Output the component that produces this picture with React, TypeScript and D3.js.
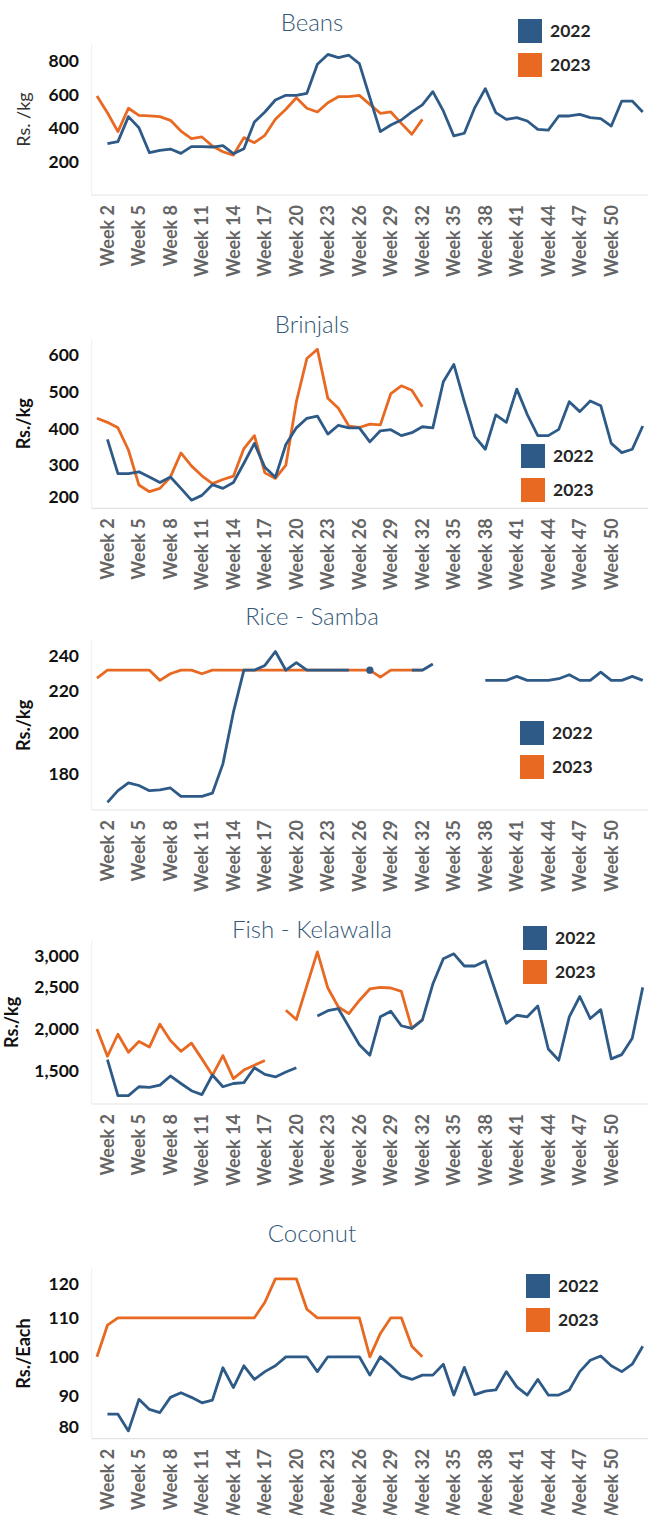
import React from 'react';
import * as d3 from 'd3';

// ---------- categories & tick labels ----------
const weeks: string[] = d3.range(1, 54).map((i) => `Week ${i}`);
const xTickLabels = [
  'Week 2', 'Week 5', 'Week 8', 'Week 11', 'Week 14', 'Week 17', 'Week 20', 'Week 23',
  'Week 26', 'Week 29', 'Week 32', 'Week 35', 'Week 38', 'Week 41', 'Week 44', 'Week 47', 'Week 50',
];
const seriesNames = ['2022', '2023'];

// ---------- Beans ----------
const beans2022 = [
  null, 306, 318, 467, 401, 252, 266, 274, 248, 288, 288, 286, 294, 246, 276, 435, 495, 566, 594, 594,
  606, 779, 838, 819, 833, 783, 580, 378, 417, 447, 495, 537, 616, 501, 352, 368, 521, 634, 491, 451,
  461, 441, 391, 387, 471, 471, 481, 461, 455, 411, 560, 560, 495,
];
const beans2023 = [
  590, 490, 378, 517, 475, 471, 467, 445, 381, 336, 346, 292, 258, 238, 342, 312, 356, 451, 511, 580,
  517, 495, 550, 586, 586, 594, 540, 487, 495, 427, 362, 451,
];
const beansTicks = [200, 400, 600, 800];

// ---------- Brinjals ----------
const brinjals2022 = [
  null, 370, 277, 277, 282, 268, 253, 268, 237, 205, 218, 247, 237, 253, 305, 359, 294, 267, 356, 401,
  427, 433, 384, 408, 401, 401, 363, 393, 396, 380, 388, 404, 401, 526, 573, 472, 377, 343, 436, 416,
  506, 437, 380, 380, 397, 472, 445, 474, 461, 359, 334, 343, 406,
];
const brinjals2023 = [
  427, 416, 401, 341, 246, 228, 237, 268, 333, 298, 271, 250, 261, 270, 345, 380, 279, 264, 300, 472,
  589, 614, 481, 454, 406, 402, 411, 409, 494, 515, 503, 458,
];
const brinjalsTicks = [200, 300, 400, 500, 600];

// ---------- Rice - Samba ----------
const rice2022 = [
  null, 166.4, 172, 175.8, 174.5, 172, 172.4, 173.3, 169.3, 169.3, 169.3, 170.8, 184.9, 209.8, 230, 230,
  232.3, 239, 230, 233.6, 230, 230, 230, 230, 230, null, 230, null, null, null, 230, 230, 233,
  null, null, null, null, 225.1, 225.1, 225.1, 227, 225.1, 225.1, 225.1, 225.9, 227.8, 225.1, 225.1,
  229.1, 225.1, 225.1, 227, 225.1,
];
const rice2023 = [
  226.2, 230, 230, 230, 230, 230, 225.1, 228.3, 230, 230, 228.3, 230, 230, 230, 230, 230, 230, 230,
  230, 230, 230, 230, 230, 230, 230, 230, 230, 226.7, 230, 230, 230, 230,
];
const riceTicks = [180, 200, 220, 240];

// ---------- Fish - Kelawalla ----------
const fish2022 = [
  null, 1629, 1199, 1199, 1305, 1297, 1324, 1434, 1344, 1258, 1211, 1445, 1305, 1344, 1355, 1531, 1453,
  1422, 1480, 1531, null, 2148, 2210, 2234, 2020, 1805, 1680, 2137, 2203, 2031, 2000, 2098, 2527, 2828,
  2887, 2742, 2742, 2801, 2430, 2059, 2156, 2137, 2266, 1754, 1621, 2137, 2379, 2117, 2223, 1637, 1688,
  1883, 2488,
];
const fish2023 = [
  1992, 1668, 1930, 1715, 1844, 1777, 2050, 1855, 1727, 1824, 1637, 1441, 1676, 1402, 1504, 1562, 1617,
  null, 2215, 2105, 2508, 2910, 2480, 2254, 2176, 2332, 2469, 2488, 2480, 2441, 2000, 2105,
];
const fishTicks = [1500, 2000, 2500, 3000];

// ---------- Coconut ----------
const coconut2022 = [
  null, 85.3, 85.3, 81, 89.1, 86.5, 85.7, 89.6, 90.8, 89.6, 88.2, 88.9, 97.2, 92.1, 97.7, 94.2, 96.2,
  97.7, 100, 100, 100, 96.2, 100, 100, 100, 100, 95.3, 100, 97.7, 95.1, 94.2, 95.3, 95.3, 98.1, 90.2,
  97.3, 90.3, 91.2, 91.5, 96.2, 92.3, 90.2, 94.2, 90.2, 90.2, 91.5, 96.2, 99.1, 100.2, 97.7, 96.2, 98.1,
  102.7,
];
const coconut2023 = [
  100, 108.1, 110, 110, 110, 110, 110, 110, 110, 110, 110, 110, 110, 110, 110, 110, 114, 120, 120, 120,
  112.2, 110, 110, 110, 110, 110, 100, 106, 110, 110, 102.7, 100,
];
const coconutTicks = [80, 90, 100, 110, 120];

// ---------- styling / layout ----------
const COLORS = ['#2E5A87', '#E86A22'];
const FONT = "Lato, 'Open Sans', 'Noto Sans', sans-serif";
const PLOT_LEFT = 91.7;
const PLOT_RIGHT = 648;

type Panel = {
  title: string;
  titleY: number;
  top: number;
  bottom: number;
  domain: [number, number];
  ticks: number[];
  fmt: (v: number) => string;
  yTitle: string;
  yTitleBold: boolean;
  yTitleX: number;
  legendX: number;
  legendY: number;
  s2022: (number | null)[];
  s2023: (number | null)[];
};

const plain = (v: number) => String(v);
const comma = d3.format(',');

const panels: Panel[] = [
  { title: 'Beans', titleY: 31, top: 44, bottom: 195, domain: [0, 900], ticks: beansTicks, fmt: plain,
    yTitle: 'Rs. /kg', yTitleBold: false, yTitleX: 24, legendX: 518, legendY: 19, s2022: beans2022, s2023: beans2023 },
  { title: 'Brinjals', titleY: 333, top: 339.3, bottom: 508.3, domain: [183, 641], ticks: brinjalsTicks, fmt: plain,
    yTitle: 'Rs./kg', yTitleBold: true, yTitleX: 24, legendX: 521, legendY: 444, s2022: brinjals2022, s2023: brinjals2023 },
  { title: 'Rice - Samba', titleY: 625, top: 640.7, bottom: 810, domain: [162.7, 244.2], ticks: riceTicks, fmt: plain,
    yTitle: 'Rs./kg', yTitleBold: true, yTitleX: 24, legendX: 520, legendY: 721, s2022: rice2022, s2023: rice2023 },
  { title: 'Fish - Kelawalla', titleY: 938, top: 940.7, bottom: 1104, domain: [1100, 3043], ticks: fishTicks, fmt: comma,
    yTitle: 'Rs./kg', yTitleBold: true, yTitleX: 12, legendX: 523, legendY: 926, s2022: fish2022, s2023: fish2023 },
  { title: 'Coconut', titleY: 1242, top: 1268.3, bottom: 1438.7, domain: [79, 122.7], ticks: coconutTicks, fmt: plain,
    yTitle: 'Rs./Each', yTitleBold: true, yTitleX: 24, legendX: 526, legendY: 1274, s2022: coconut2022, s2023: coconut2023 },
];

function Chart({ p }: { p: Panel }) {
  const x = d3.scalePoint<string>().domain(weeks).range([PLOT_LEFT, PLOT_RIGHT]).padding(0.5);
  const y = d3.scaleLinear().domain(p.domain).range([p.bottom, p.top]);
  const line = d3
    .line<number | null>()
    .defined((d) => d != null)
    .x((_, i) => x(weeks[i]) as number)
    .y((d) => y(d as number));
  const series = [p.s2023, p.s2022]; // 2022 drawn on top
  const colorOf = (s: (number | null)[]) => (s === p.s2022 ? COLORS[0] : COLORS[1]);
  const clampY = (v: number) => Math.max(p.top + 15, Math.min(p.bottom - 12, y(v)));
  const yMid = (p.top + p.bottom) / 2;
  return (
    <g>
      <text x={312} y={p.titleY} textAnchor="middle" fontSize={24} fontWeight={300} fill="#355878" fontFamily={FONT}>
        {p.title}
      </text>
      <line x1={PLOT_LEFT} x2={PLOT_LEFT} y1={p.top} y2={p.bottom} stroke="#eeeeee" strokeWidth={1} />
      <line x1={PLOT_LEFT} x2={PLOT_RIGHT} y1={p.bottom} y2={p.bottom} stroke="#e3e3e3" strokeWidth={1.2} />
      {p.ticks.map((t) => (
        <text key={t} x={79} y={clampY(t)} dy="0.36em" textAnchor="end" fontSize={17.5} fontWeight={700} fill="#111" fontFamily={FONT}>
          {p.fmt(t)}
        </text>
      ))}
      <text
        transform={`translate(${p.yTitleX},${yMid}) rotate(-90)`}
        dy="0.36em"
        textAnchor="middle"
        fontSize={18}
        fontWeight={p.yTitleBold ? 700 : 400}
        fill={p.yTitleBold ? '#111' : '#333'}
        fontFamily={FONT}
      >
        {p.yTitle}
      </text>
      {xTickLabels.map((w) => (
        <text
          key={w}
          transform={`translate(${x(w)},${p.bottom + 10}) rotate(-90)`}
          dy="0.36em"
          textAnchor="end"
          fontSize={18}
          fontWeight={700}
          fill="#656565"
          fontFamily={FONT}
        >
          {w}
        </text>
      ))}
      {series.map((s, k) => (
        <g key={k}>
          <path d={line(s as (number | null)[]) || ''} fill="none" stroke={colorOf(s)} strokeWidth={2.8} strokeLinejoin="round" />
          {s.map((d, i) =>
            d != null && (i === 0 || s[i - 1] == null) && (i === s.length - 1 || s[i + 1] == null) ? (
              <circle key={i} cx={x(weeks[i])} cy={y(d)} r={3.6} fill={colorOf(s)} />
            ) : null
          )}
        </g>
      ))}
      {seriesNames.map((n, i) => (
        <g key={n}>
          <rect x={p.legendX} y={p.legendY + i * 34} width={24} height={24} fill={COLORS[i]} />
          <text x={p.legendX + 32} y={p.legendY + i * 34 + 12} dy="0.36em" fontSize={17.5} fontWeight={700} fill="#262626" fontFamily={FONT}>
            {n}
          </text>
        </g>
      ))}
    </g>
  );
}

export default function App() {
  return (
    <svg
      width={648}
      height={1515}
      viewBox="0 0 648 1515"
      style={{ position: 'absolute', left: 0, top: 0, background: '#fff' }}
    >
      <rect x={0} y={0} width={648} height={1515} fill="#fff" />
      {panels.map((p) => (
        <Chart key={p.title} p={p} />
      ))}
    </svg>
  );
}
